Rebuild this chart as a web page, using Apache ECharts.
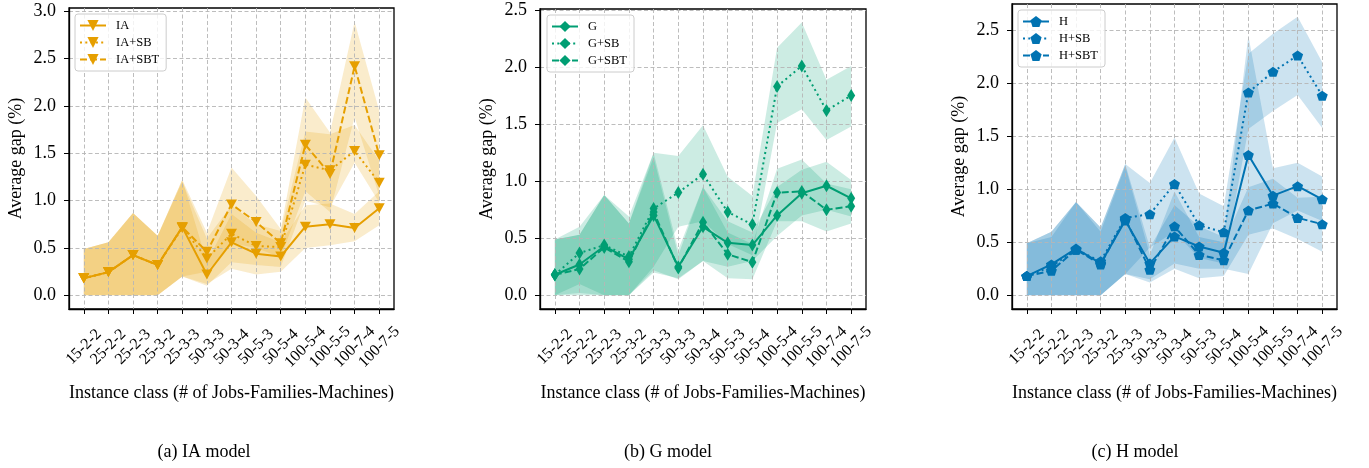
<!DOCTYPE html>
<html><head><meta charset="utf-8">
<script src="https://cdn.jsdelivr.net/npm/echarts@6/dist/echarts.min.js"></script>
<style>html,body{margin:0;padding:0;background:#fff}#c{width:1369px;height:468px}</style>
</head><body><div id="c"></div>
<script>
const categories = ['15-2-2','25-2-2','25-2-3','25-3-2','25-3-3','50-3-3','50-3-4','50-5-3','50-5-4','100-5-4','100-5-5','100-7-4','100-7-5'];
const yTicksA = [0, 0.5, 1.0, 1.5, 2.0, 2.5, 3.0];
const yTicksB = [0, 0.5, 1.0, 1.5, 2.0, 2.5];
const yTicksC = [0, 0.5, 1.0, 1.5, 2.0, 2.5];

// (a) IA model
const ia      = [0.18,0.245,0.425,0.32,0.72,0.22,0.56,0.44,0.41,0.725,0.75,0.71,0.92];
const iaLo    = [0,0,0,0,0.2,0.12,0.28,0.22,0.25,0.5,0.53,0.57,0.74];
const iaHi    = [0.49,0.56,0.87,0.63,1.22,0.35,0.86,0.66,0.56,0.95,0.97,0.86,1.1];
const iaSb    = [0.18,0.245,0.425,0.32,0.71,0.39,0.65,0.52,0.51,1.38,1.32,1.525,1.19];
const iaSbLo  = [0,0,0,0,0.2,0.1,0.35,0.32,0.3,1.0,0.93,1.4,0.98];
const iaSbHi  = [0.49,0.56,0.87,0.63,1.2,0.6,0.95,0.75,0.68,1.73,1.7,1.8,1.42];
const iaSbt   = [0.18,0.245,0.425,0.32,0.72,0.46,0.96,0.775,0.55,1.59,1.28,2.42,1.48];
const iaSbtLo = [0,0,0,0,0.2,0.25,0.55,0.5,0.4,1.1,0.88,1.88,1.05];
const iaSbtHi = [0.49,0.56,0.87,0.63,1.22,0.66,1.35,1.05,0.7,2.09,1.72,2.89,1.95];

// (b) G model
const g      = [0.18,0.27,0.43,0.315,0.70,0.25,0.60,0.46,0.44,0.70,0.895,0.96,0.85];
const gLo    = [0,0.02,0,0,0.22,0.14,0.3,0.25,0.3,0.52,0.7,0.75,0.69];
const gHi    = [0.49,0.53,0.88,0.63,1.25,0.4,0.95,0.65,0.55,0.95,1.1,1.17,1.01];
const gSb    = [0.18,0.37,0.44,0.34,0.76,0.90,1.06,0.73,0.62,1.83,2.01,1.62,1.75];
const gSbLo  = [0,0.1,0,0,0.25,0.6,0.65,0.45,0.35,1.51,1.63,1.36,1.48];
const gSbHi  = [0.49,0.6,0.88,0.69,1.25,1.22,1.49,1.04,0.87,2.17,2.39,1.89,2.01];
const gSbt   = [0.18,0.23,0.42,0.295,0.73,0.24,0.64,0.36,0.29,0.90,0.91,0.75,0.78];
const gSbtLo = [0,0,0,0,0.2,0.15,0.3,0.15,0.14,0.65,0.65,0.56,0.63];
const gSbtHi = [0.49,0.53,0.88,0.63,1.21,0.35,0.95,0.55,0.45,1.11,1.19,0.98,0.93];

// (c) H model
const h      = [0.18,0.29,0.44,0.30,0.705,0.30,0.555,0.46,0.40,1.325,0.94,1.03,0.905];
const hLo    = [0,0,0,0,0.2,0.15,0.3,0.25,0.25,0.2,0.68,0.8,0.7];
const hHi    = [0.49,0.6,0.88,0.64,1.24,0.45,0.85,0.65,0.55,2.45,1.2,1.25,1.12];
const hSb    = [0.18,0.27,0.43,0.32,0.73,0.765,1.05,0.66,0.595,1.915,2.11,2.265,1.885];
const hSbLo  = [0,0,0,0,0.2,0.45,0.6,0.35,0.3,1.57,1.74,1.89,1.58];
const hSbHi  = [0.49,0.6,0.88,0.64,1.24,1.06,1.49,0.96,0.84,2.28,2.47,2.63,2.2];
const hSbt   = [0.18,0.23,0.43,0.29,0.72,0.24,0.65,0.38,0.33,0.80,0.865,0.73,0.67];
const hSbtLo = [0,0,0,0,0.2,0.12,0.25,0.16,0.18,0.57,0.63,0.53,0.41];
const hSbtHi = [0.49,0.55,0.88,0.6,1.22,0.38,0.98,0.55,0.5,1.02,1.1,0.92,0.93];

const FONT = 'Liberation Serif';
const idx = categories.map((_, i) => i);
const pentagon = 'path://M0,-1 L0.951,-0.309 L0.588,0.809 L-0.588,0.809 L-0.951,-0.309 Z';

const panels = [
  { grid:{left:69, top:8, width:325, height:301}, ymin:-0.1445, ymax:3.0345, ticks:yTicksA,
    color:'#E69F00', symbol:'triangle', rot:180, size:[11,10],
    names:['IA','IA+SB','IA+SBT'], means:[ia,iaSb,iaSbt], los:[iaLo,iaSbLo,iaSbtLo], his:[iaHi,iaSbHi,iaSbtHi],
    legend:{left:75, top:14}, caption:'(a) IA model', capX:204 },
  { grid:{left:540, top:9, width:326, height:300}, ymin:-0.12, ymax:2.509, ticks:yTicksB,
    color:'#009E73', symbol:'diamond', rot:0, size:[8,13],
    names:['G','G+SB','G+SBT'], means:[g,gSb,gSbt], los:[gLo,gSbLo,gSbtLo], his:[gHi,gSbHi,gSbtHi],
    legend:{left:547, top:15}, caption:'(b) G model', capX:668 },
  { grid:{left:1012, top:4, width:325, height:305}, ymin:-0.131, ymax:2.751, ticks:yTicksC,
    color:'#0173B2', symbol:pentagon, rot:0, size:[11,10],
    names:['H','H+SB','H+SBT'], means:[h,hSb,hSbt], los:[hLo,hSbLo,hSbtLo], his:[hHi,hSbHi,hSbtHi],
    legend:{left:1018, top:10}, caption:'(c) H model', capX:1135 }
];
const lineTypes = ['solid', [2, 3.3], [7, 3]];

function rgba(hex, a){
  const n = parseInt(hex.slice(1), 16);
  return `rgba(${(n>>16)&255},${(n>>8)&255},${n&255},${a})`;
}

const grids = [], xAxes = [], yAxes = [], series = [], legends = [], graphics = [];
panels.forEach((p, gi) => {
  grids.push(Object.assign({show:true, borderColor:'#000', borderWidth:1.3, backgroundColor:'transparent', containLabel:false}, p.grid));
  const split = {show:true, lineStyle:{color:'#b5b5b5', width:0.9, type:[4,2.5]}};
  xAxes.push({type:'value', gridIndex:gi, min:-0.6, max:12.6, z:1.5,
    axisLine:{show:true, onZero:false, lineStyle:{color:'#000', width:1.3}},
    axisTick:{show:true, customValues:idx, length:5, lineStyle:{color:'#000', width:1}},
    axisLabel:{customValues:idx, formatter:v => categories[Math.round(v)] || '', rotate:45, align:'center', verticalAlign:'middle',
      margin:38, fontSize:16, fontFamily:FONT, color:'#000'},
    splitLine:split,
    name:'Instance class (# of Jobs-Families-Machines)', nameLocation:'middle', nameGap:75,
    nameTextStyle:{fontSize:18, fontFamily:FONT, color:'#000'}
  });
  yAxes.push({type:'value', gridIndex:gi, min:p.ymin, max:p.ymax, z:1.5,
    axisLine:{show:true, onZero:false, lineStyle:{color:'#000', width:1.3}},
    axisTick:{show:true, customValues:p.ticks, length:5, lineStyle:{color:'#000', width:1}},
    axisLabel:{customValues:p.ticks, formatter:v => v.toFixed(1), margin:13, fontSize:18, fontFamily:FONT, color:'#000'},
    splitLine:split,
    name:'Average gap (%)', nameLocation:'middle', nameGap:44,
    nameTextStyle:{fontSize:18, fontFamily:FONT, color:'#000'}
  });
  for (let k = 0; k < 3; k++) {
    const lo = p.los[k], hi = p.his[k];
    series.push({type:'custom', xAxisIndex:gi, yAxisIndex:gi, z:1, silent:true, animation:false,
      data: idx.map(i => [i, lo[i], hi[i]]),
      encode:{x:0, y:[1,2]},
      renderItem:(params, api) => {
        if (params.dataIndex !== 0) return null;
        const pts = [];
        for (let i = 0; i < idx.length; i++) pts.push(api.coord([i, hi[i]]));
        for (let i = idx.length - 1; i >= 0; i--) pts.push(api.coord([i, lo[i]]));
        return {type:'polygon', shape:{points:pts}, style:{fill:rgba(p.color, 0.2)}};
      }
    });
  }
  for (let k = 0; k < 3; k++) {
    const m = p.means[k];
    series.push({type:'line', name:p.names[k], xAxisIndex:gi, yAxisIndex:gi, z:3, animation:false,
      data: idx.map(i => [i, m[i]]),
      symbol:p.symbol, symbolRotate:p.rot, symbolSize:p.size, showSymbol:true,
      lineStyle:{color:p.color, width:2, type:lineTypes[k]},
      itemStyle:{color:p.color}
    });
  }
  legends.push({data:p.names, orient:'vertical', left:p.legend.left, top:p.legend.top,
    itemWidth:26, itemHeight:14, itemGap:4, padding:[5,7,5,4],
    backgroundColor:'rgba(255,255,255,0.8)', borderColor:'#cccccc', borderWidth:1, borderRadius:3,
    textStyle:{fontSize:12.5, fontFamily:FONT, color:'#000', padding:[0,0,0,5]}, selectedMode:false});
  graphics.push({type:'text', x:p.capX, y:452, style:{text:p.caption, font:'18px "Liberation Serif"', textAlign:'center', verticalAlign:'middle', fill:'#000'}});
});

const chart = echarts.init(document.getElementById('c'), null, {renderer:'canvas'});
chart.setOption({
  animation:false,
  textStyle:{fontFamily:FONT},
  grid:grids, xAxis:xAxes, yAxis:yAxes, series:series, legend:legends, graphic:graphics
});
</script></body></html>
